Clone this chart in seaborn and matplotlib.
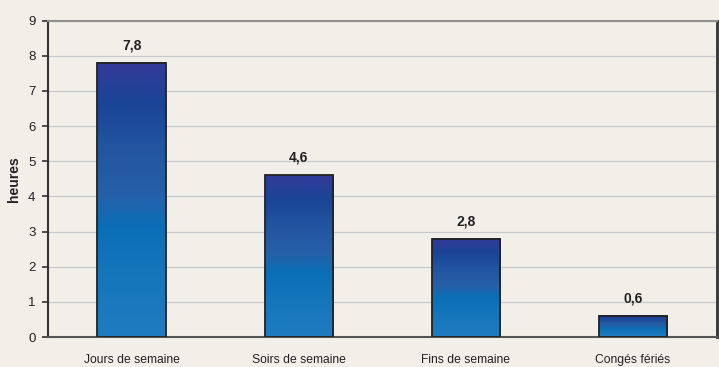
import numpy as np
import matplotlib
matplotlib.use("Agg")
import matplotlib.pyplot as plt
from matplotlib.colors import LinearSegmentedColormap
from matplotlib.patches import Rectangle
import seaborn as sns
import pandas as pd

categories = ["Jours de semaine", "Soirs de semaine", "Fins de semaine", "Congés fériés"]
hours = [7.8, 4.6, 2.8, 0.6]
value_labels = ["7,8", "4,6", "2,8", "0,6"]
y_ticks = list(range(0, 10))

bg = "#f2efe9"
sns.set_theme(style="white")
plt.rcParams["font.family"] = ["Liberation Sans", "DejaVu Sans"]

df = pd.DataFrame({"cat": categories, "h": hours})

fig = plt.figure(figsize=(7.19, 3.67), dpi=100, facecolor=bg)
ax = fig.add_axes([0.0668, 0.0817, 0.93, 0.862])
ax.set_facecolor(bg)

sns.barplot(data=df, x="cat", y="h", ax=ax, width=0.41, color="#1f7bc0",
            edgecolor="none", linewidth=0, zorder=2)

# vertical gradient: dark indigo at the top, lighter blue at the base
grad = LinearSegmentedColormap.from_list("bar", [
    (0.0, "#1f7cc1"),
    (0.25, "#1475bb"),
    (0.40, "#0a6fb6"),
    (0.52, "#2660a8"),
    (0.70, "#22549f"),
    (0.85, "#1a4596"),
    (1.0, "#343a98"),
])
column = np.linspace(0, 1, 256).reshape(-1, 1)
for p in list(ax.patches):
    x0, y0 = p.get_x(), p.get_y()
    w, h = p.get_width(), p.get_height()
    ax.imshow(column, cmap=grad, origin="lower", aspect="auto",
              extent=(x0, x0 + w, y0, y0 + h), zorder=3, interpolation="bilinear")
    ax.add_patch(Rectangle((x0, y0), w, h, fill=False, edgecolor="#222222",
                           linewidth=1.3, zorder=4))

for i, (v, lab) in enumerate(zip(hours, value_labels)):
    ax.text(i, v + 0.5, lab, ha="center", va="center", fontsize=10,
            fontweight="bold", color="#222222", zorder=5)

ax.set_xlim(-0.5, len(categories) - 0.5)
ax.set_ylim(0, 9)
ax.set_yticks(y_ticks)
ax.set_yticklabels([str(t) for t in y_ticks], fontsize=9.5, color="#222222")
ax.yaxis.grid(True, color="#c9c9cc", linewidth=0.9)
ax.set_axisbelow(True)

ax.set_xticks(range(len(categories)))
ax.set_xticklabels(categories, fontsize=8.7, color="#222222")
ax.set_xticks(np.arange(-0.5, len(categories), 1.0), minor=True)
ax.tick_params(axis="x", which="major", length=0, pad=12)
ax.tick_params(axis="x", which="minor", length=4, width=1.2, color="#333333", direction="out")
ax.tick_params(axis="y", length=4, width=1.2, color="#333333", direction="out", pad=5, left=True)

ax.set_xlabel("")
ax.set_ylabel("heures", fontsize=10, fontweight="bold", color="#222222", labelpad=5)

ax.spines["left"].set_color("#333333")
ax.spines["left"].set_linewidth(1.5)
ax.spines["bottom"].set_color("#555555")
ax.spines["bottom"].set_linewidth(1.5)
ax.spines["right"].set_color("#333333")
ax.spines["right"].set_linewidth(2)
ax.spines["top"].set_color("#8f8f8f")
ax.spines["top"].set_linewidth(1.5)

fig.savefig("out.png", dpi=100, facecolor=bg)
